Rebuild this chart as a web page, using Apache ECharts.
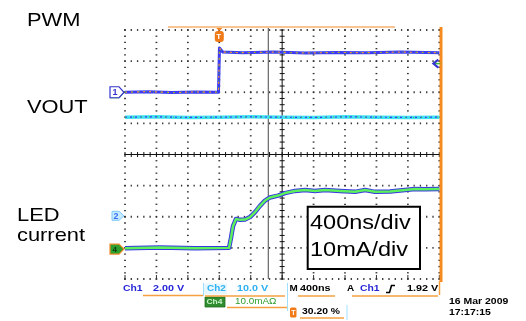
<!DOCTYPE html>
<html><head><meta charset="utf-8">
<script src="https://cdn.jsdelivr.net/npm/echarts@6/dist/echarts.min.js"></script>
<style>html,body{margin:0;padding:0;background:#fff}#c{width:526px;height:321px}</style>
</head><body><div id="c"></div>
<script>
// ---- data (time in ns relative to trigger, vertical position in screen divisions) ----
const timeTicksNs = [-1200, -800, -400, 0, 400, 800, 1200, 1600, 2000, 2400, 2800];
const divTicks = [0, 1, 2, 3, 4, 5, 6, 7, 8];
const traceLabels = ["PWM", "VOUT", "LED", "current"];
const pwmT   = [-1200, -900, -600, -300, -10, 0, 2, 20, 45, 300, 700, 1100, 1500, 1900, 2300, 2800];
const pwmDiv = [6.0, 6.02, 5.99, 6.01, 6.0, 6.0, 7.42, 7.47, 7.29, 7.27, 7.29, 7.26, 7.28, 7.27, 7.29, 7.27];
const voutT   = [-1200, -800, -400, 0, 400, 800, 1200, 1600, 2000, 2400, 2800];
const voutDiv = [5.20, 5.21, 5.19, 5.20, 5.21, 5.20, 5.19, 5.21, 5.20, 5.19, 5.20];
const ledT   = [-1200, -755, -309, 124, 149, 175, 213, 264, 327, 391, 455, 518, 582, 645, 747, 836, 964, 1091, 1218, 1345, 1536, 1727, 1855, 1982, 2173, 2364, 2491, 2618, 2800];
const ledDiv = [0.99, 1.01, 0.99, 1.00, 1.32, 1.70, 1.93, 1.90, 1.91, 1.99, 2.15, 2.35, 2.52, 2.62, 2.68, 2.76, 2.83, 2.86, 2.83, 2.86, 2.83, 2.80, 2.86, 2.80, 2.81, 2.86, 2.89, 2.88, 2.89];
const cursorNs = 624;
const ch1GroundDiv = 6.0, ch2GroundDiv = 2.03, ch4GroundDiv = 0.96, trigLevelDiv = 6.92;
const scaleText = ["400ns/div", "10mA/div"];
const statusRow1 = ["Ch1", "2.00 V", "Ch2", "10.0 V", "M", "400ns", "A", "Ch1", "1.92 V"];
const statusRow2 = ["Ch4", "10.0mAΩ"];
const statusRow3 = ["30.20 %"];
const dateText = ["16 Mar 2009", "17:17:15"];

const zip = (a, b) => a.map((v, i) => [v, b[i]]);
const xMin = timeTicksNs[0], xMax = timeTicksNs[timeTicksNs.length - 1];
const subT = (timeTicksNs[1] - timeTicksNs[0]) / 5;

function renderGraticule(params, api) {
  const ch = [];
  const dot = (x, y, w, h) => ch.push({type: 'rect', shape: {x: x - w / 2, y: y - h / 2, width: w, height: h}, style: {fill: '#333'}});
  const line = (x1, y1, x2, y2, c, w) => ch.push({type: 'line', shape: {x1, y1, x2, y2}, style: {stroke: c, lineWidth: w}});
  divTicks.forEach(d => {
    if (d === 4) return;
    for (let t = xMin; t <= xMax + 1; t += subT) { const p = api.coord([t, d]); dot(p[0], p[1], 1.3, 1.8); }
  });
  timeTicksNs.forEach(t => {
    if (t === 800) return;
    for (let d = 0; d <= 8.01; d += 0.2) { const p = api.coord([t, d]); dot(p[0], p[1], 1.8, 1.3); }
  });
  timeTicksNs.forEach(t => { const p = api.coord([t, 0]); line(p[0], p[1] - 4, p[0], p[1], '#333', 1); });
  const c0 = api.coord([800, 0]), c1 = api.coord([800, 8]);
  line(c0[0], c0[1], c1[0], c1[1], '#111', 1);
  for (let d = 0; d <= 8.01; d += 0.2) { const p = api.coord([800, d]); line(p[0] - 2.5, p[1], p[0] + 2.5, p[1], '#111', 1); }
  const h0 = api.coord([xMin, 4]), h1 = api.coord([xMax, 4]);
  line(h0[0], h0[1], h1[0], h1[1], '#111', 1);
  for (let t = xMin; t <= xMax + 1; t += subT) { const p = api.coord([t, 4]); line(p[0], p[1] - 2.5, p[0], p[1] + 2.5, '#111', 1); }
  const k0 = api.coord([cursorNs, 0]), k1 = api.coord([cursorNs, 8]);
  line(k0[0], k0[1], k1[0], k1[1] - 2, '#666', 1.2);
  const r0 = api.coord([xMax, 0]), r1 = api.coord([xMax, 8]);
  line(r0[0] + 1.7, r0[1] + 3, r1[0] + 1.7, r1[1] - 3, '#f78a1f', 3);
  return {type: 'group', children: ch};
}

const chart = echarts.init(document.getElementById('c'), null, {renderer: 'canvas'});
const lineS = (name, data, color, width, z, dash) => ({
  name, type: 'line', data, showSymbol: false, symbol: 'none', z, silent: true, animation: false,
  lineStyle: {color, width, type: dash || 'solid', cap: 'butt', join: 'round'}
});
chart.setOption({
  backgroundColor: '#fff',
  animation: false,
  grid: {left: 125, right: 86.7, top: 30, bottom: 42},
  xAxis: {type: 'value', min: xMin, max: xMax, interval: 400, show: false},
  yAxis: {type: 'value', min: 0, max: 8, interval: 1, show: false},
  series: [
    {type: 'custom', renderItem: renderGraticule, data: [[0, 0]], z: 1, silent: true, clip: false, animation: false},
    lineS('VOUT', zip(voutT, voutDiv), '#3fe0f0', 3.5, 3),
    lineS('VOUTb', zip(voutT, voutDiv), '#3a3af0', 1.2, 4, [2, 3]),
    lineS('VOUTg', zip(voutT, voutDiv), '#40d040', 1, 4, [1, 7]),
    lineS('PWM', zip(pwmT, pwmDiv), '#3b3bf5', 3, 3),
    lineS('PWMo', zip(pwmT, pwmDiv), '#f59a30', 1.2, 4, [2, 4]),
    lineS('PWMg', zip(pwmT, pwmDiv), '#3cb83c', 1, 4, [1, 6]),
    lineS('LEDb', zip(ledT, ledDiv), '#3838e0', 4.5, 3),
    lineS('LED', zip(ledT, ledDiv), '#5cf05c', 2.5, 4)
  ]
});

const px = (t, d) => chart.convertToPixel({gridIndex: 0}, [t, d]);
const FONT = '"Liberation Sans", Arial, sans-serif';
const txt = (text, x, y, size, color, opts) => ({
  type: 'text', x, y, scaleX: (opts && opts.sx) || 1, z: (opts && opts.z) || 20,
  style: {text, font: ((opts && opts.bold) ? 'bold ' : '') + size + 'px ' + FONT, fill: color, align: 'left', verticalAlign: 'middle'}
});
const ln = (x1, y1, x2, y2, c, w) => ({type: 'line', z: 20, shape: {x1, y1, x2, y2}, style: {stroke: c, lineWidth: w}});
const rc = (x, y, w, h, fill, stroke, lw) => ({type: 'rect', z: 19, shape: {x, y, width: w, height: h}, style: {fill: fill || 'none', stroke: stroke || null, lineWidth: lw || 0}});

const g = [];
const OR = '#f5a040', BL = '#2626d8', CY = '#2fb0f2', GR = '#2f9f2f';
g.push(txt(traceLabels[0], 27, 21, 19, '#000', {sx: 1.15}));
g.push(txt(traceLabels[1], 27, 108, 19, '#000', {sx: 1.15}));
g.push(txt(traceLabels[2], 17, 216, 19, '#000', {sx: 1.15}));
g.push(txt(traceLabels[3], 17, 236, 19, '#000', {sx: 1.15}));
g.push(rc(307.7, 206.7, 112.3, 62.3, '#fff', '#000', 2));
g.push(txt(scaleText[0], 310, 223.5, 21, '#000', {sx: 1.12}));
g.push(txt(scaleText[1], 310, 250.5, 21, '#000', {sx: 1.12}));
g.push(ln(168, 27, 395, 27, '#f7b070', 1.5));
// ch1 marker
const m1 = px(xMin, ch1GroundDiv);
g.push({type: 'polygon', z: 21, shape: {points: [[m1[0]-15, m1[1]-5.5], [m1[0]-6, m1[1]-5.5], [m1[0]-1, m1[1]], [m1[0]-6, m1[1]+5.5], [m1[0]-15, m1[1]+5.5]]}, style: {fill: '#fff', stroke: '#3434d0', lineWidth: 1.2}});
g.push(ln(m1[0]-15, m1[1]+5.5, m1[0]-6, m1[1]+5.5, '#3cb83c', 1.2));
g.push(ln(m1[0]-6, m1[1]+5.5, m1[0]-1, m1[1], '#3cb83c', 1.2));
g.push(txt('1', m1[0]-12.5, m1[1]+0.5, 9, '#3434d0', {bold: true, z: 25}));
// ch2 marker
const m2 = px(xMin, ch2GroundDiv);
g.push({type: 'polygon', z: 21, shape: {points: [[m2[0]-13, m2[1]-4.5], [m2[0]-6, m2[1]-4.5], [m2[0]-1, m2[1]], [m2[0]-6, m2[1]+4.5], [m2[0]-13, m2[1]+4.5]]}, style: {fill: '#c8ecff', stroke: '#7fc8ff', lineWidth: 1}});
g.push(txt('2', m2[0]-11.5, m2[1]+0.5, 9, '#3a6ff0', {bold: true, z: 25}));
// ch4 marker
const m4 = px(xMin, ch4GroundDiv);
g.push({type: 'polygon', z: 21, shape: {points: [[m4[0]-15, m4[1]-5], [m4[0]-6, m4[1]-5], [m4[0]-1, m4[1]], [m4[0]-6, m4[1]+5], [m4[0]-15, m4[1]+5]]}, style: {fill: '#2ea02e', stroke: '#f08a2a', lineWidth: 1.2}});
g.push(txt('4', m4[0]-12.5, m4[1]+0.3, 8, '#0a3a0a', {bold: true, z: 25}));
// trigger marker
const mt = px(0, 8);
g.push({type: 'polygon', z: 21, shape: {points: [[mt[0]-3, mt[1]-2], [mt[0]+3, mt[1]-2], [mt[0], mt[1]+1]]}, style: {fill: '#f08020'}});
g.push({type: 'rect', z: 21, shape: {x: mt[0]-4.5, y: mt[1]+1, width: 9, height: 11, r: 3}, style: {fill: '#f07a18'}});
g.push(txt('T', mt[0]-3, mt[1]+6.5, 8, '#fff', {bold: true, z: 25}));
// trigger level marker
const ml = px(xMax, trigLevelDiv);
g.push({type: 'polyline', z: 21, shape: {points: [[ml[0]-1, ml[1]-4], [ml[0]-6, ml[1]], [ml[0]-1, ml[1]+4]]}, style: {stroke: '#3434d0', lineWidth: 2, fill: 'none'}});
g.push(ln(ml[0]-6, ml[1], ml[0]+1, ml[1], '#3cb83c', 1.5));
// status bar
const S = 9;
g.push(txt(statusRow1[0], 123, 289, S, BL, {bold: true, sx: 1.15}));
g.push(txt(statusRow1[1], 153, 289, S, BL, {bold: true, sx: 1.2}));
g.push(ln(143, 295.5, 203, 295.5, OR, 1.5));
g.push(rc(204, 283.5, 23, 11, '#e6f7ff', null, 0));
g.push(ln(203.5, 283, 203.5, 296, '#9fe0ff', 1));
g.push(ln(287.5, 283, 287.5, 311, '#9fe0ff', 1));
g.push(txt(statusRow1[2], 207, 289, S, CY, {bold: true, sx: 1.1}));
g.push(txt(statusRow1[3], 237, 289, S, CY, {bold: true, sx: 1.2}));
g.push(ln(205, 296, 285, 296, OR, 1.5));
g.push(txt(statusRow1[4], 289.5, 289, S, '#000', {bold: true, sx: 1.1}));
g.push(txt(statusRow1[5], 300, 289, S, '#000', {bold: true, sx: 1.2}));
g.push(ln(298, 296, 335, 296, OR, 1.5));
g.push(txt(statusRow1[6], 347, 289, S, '#000', {bold: true, sx: 1.1}));
g.push(txt(statusRow1[7], 360, 289, S, BL, {bold: true, sx: 1.15}));
g.push({type: 'polyline', z: 20, shape: {points: [[386, 292.5], [389.5, 292.5], [391.5, 285.5], [395, 285.5]]}, style: {stroke: '#000', lineWidth: 1.6, fill: 'none'}});
g.push(txt(statusRow1[8], 407, 289, S, '#000', {bold: true, sx: 1.2}));
g.push(ln(352, 296, 438, 296, OR, 1.5));
g.push(ln(439.5, 281, 439.5, 295, OR, 1.5));
g.push(rc(205, 297, 20, 10, '#2e8b2e', '#1f6f1f', 0.8));
g.push(txt(statusRow2[0], 206.5, 302.2, 8, '#c8f5c8', {bold: true, sx: 1.05, z: 25}));
g.push(txt(statusRow2[1], 235, 302, S, GR, {bold: false, sx: 1.1}));
g.push(ln(227, 307.5, 287, 307.5, OR, 1.5));
g.push({type: 'rect', z: 20, shape: {x: 290, y: 307.5, width: 6.5, height: 10, r: 1.5}, style: {fill: '#f07a18'}});
g.push(txt('T', 291.2, 312.8, 7, '#fff', {bold: true, z: 25}));
g.push(txt(statusRow3[0], 302, 312, S, '#000', {bold: true, sx: 1.15}));
g.push(ln(300, 318, 344, 318, OR, 1.5));
g.push(ln(347, 305, 347, 320, '#9fe0ff', 1));
g.push(txt(dateText[0], 449, 301.5, 9.5, '#000', {bold: true, sx: 1.1}));
g.push(txt(dateText[1], 449, 312, 9.5, '#000', {bold: true, sx: 1.1}));

chart.setOption({graphic: g});
</script>
</body></html>
